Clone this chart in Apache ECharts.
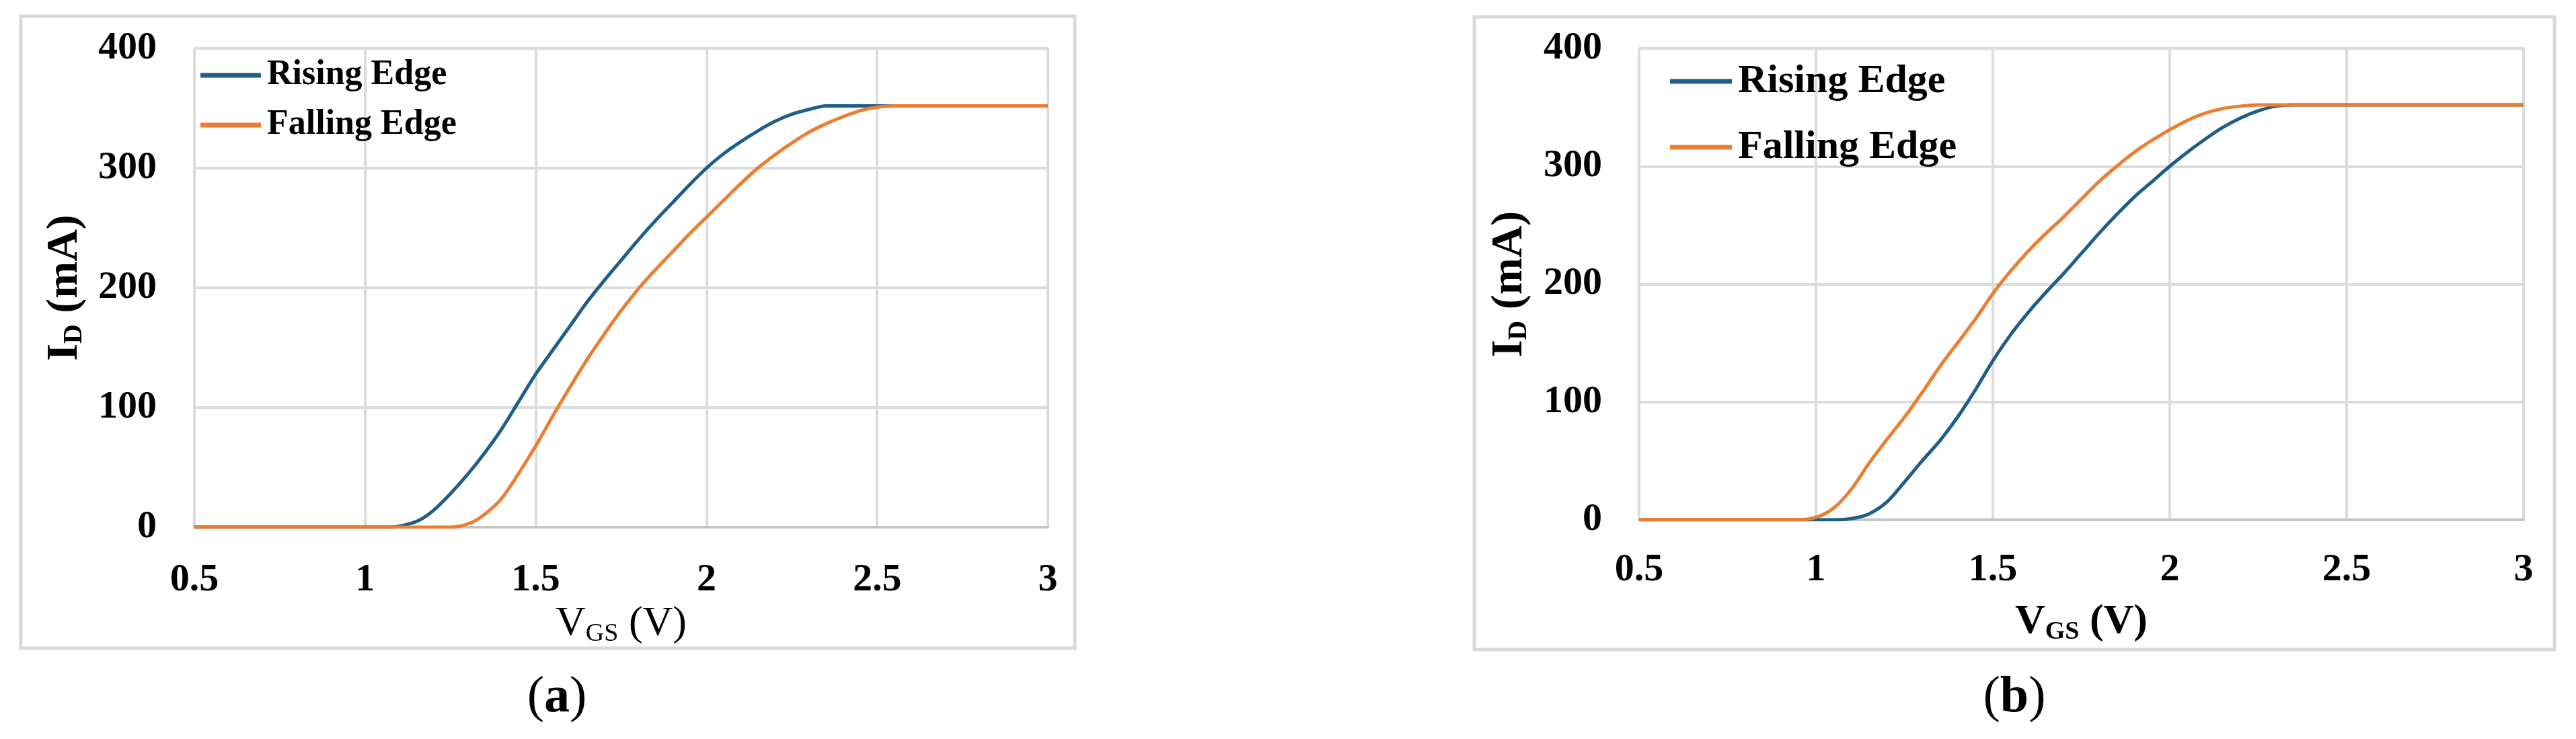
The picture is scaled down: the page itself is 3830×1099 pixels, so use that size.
<!DOCTYPE html>
<html><head><meta charset="utf-8">
<script src="https://cdn.jsdelivr.net/npm/echarts@6/dist/echarts.min.js"></script>
<style>html,body{margin:0;padding:0;background:#fff}#c{width:3830px;height:1099px}</style>
</head><body><div id="c"></div>
<script>
// ---------- data ----------
const seriesNames = ['Rising Edge', 'Falling Edge'];
const xTickValues = [0.5, 1, 1.5, 2, 2.5, 3];
const yTickValues = [0, 100, 200, 300, 400];
const panelLabels = ['a', 'b'];

// Panel (a)
const riseA_V = [0.5, 0.8, 1.0, 1.08, 1.12, 1.16, 1.2, 1.25, 1.3, 1.35, 1.4, 1.45, 1.5, 1.55, 1.6, 1.65, 1.7, 1.75, 1.8, 1.85, 1.9, 1.95, 2.0, 2.05, 2.1, 2.15, 2.2, 2.25, 2.3, 2.35, 2.4, 2.5, 2.6, 2.8, 3.0];
const riseA_I = [0, 0, 0, 0, 2, 6, 14, 28, 44, 62, 82, 105, 128, 148, 168, 188, 206, 223, 240, 256, 271, 286, 300, 312, 322, 331, 339, 345, 349, 352, 352, 352, 352, 352, 352];
const fallA_V = [0.5, 0.8, 1.0, 1.25, 1.28, 1.32, 1.36, 1.4, 1.45, 1.5, 1.55, 1.6, 1.65, 1.7, 1.75, 1.8, 1.85, 1.9, 1.95, 2.0, 2.05, 2.1, 2.15, 2.2, 2.25, 2.3, 2.35, 2.4, 2.45, 2.5, 2.55, 2.7, 2.9, 3.0];
const fallA_I = [0, 0, 0, 0, 1, 5, 13, 24, 45, 68, 93, 117, 140, 161, 181, 199, 215, 230, 245, 259, 273, 287, 300, 311, 321, 330, 337, 343, 348, 351, 352, 352, 352, 352];

// Panel (b)
const riseB_V = [0.5, 0.8, 1.0, 1.05, 1.1, 1.15, 1.2, 1.25, 1.3, 1.35, 1.4, 1.45, 1.5, 1.55, 1.6, 1.65, 1.7, 1.75, 1.8, 1.85, 1.9, 1.95, 2.0, 2.05, 2.1, 2.15, 2.2, 2.25, 2.3, 2.35, 2.5, 2.7, 2.9, 3.0];
const riseB_I = [0, 0, 0, 0, 1, 5, 15, 32, 50, 67, 87, 110, 135, 157, 176, 193, 209, 226, 243, 259, 274, 287, 300, 312, 323, 333, 341, 347, 351, 352, 352, 352, 352, 352];
const fallB_V = [0.5, 0.8, 0.95, 1.0, 1.05, 1.1, 1.15, 1.2, 1.25, 1.3, 1.35, 1.4, 1.45, 1.5, 1.55, 1.6, 1.65, 1.7, 1.75, 1.8, 1.85, 1.9, 1.95, 2.0, 2.05, 2.1, 2.15, 2.2, 2.25, 2.5, 2.7, 2.9, 3.0];
const fallB_I = [0, 0, 0, 2, 10, 26, 48, 68, 87, 108, 130, 150, 170, 192, 211, 228, 243, 257, 272, 287, 300, 312, 322, 331, 339, 345, 349, 351, 352, 352, 352, 352, 352];

// ---------- helpers ----------
const FONT = "'Liberation Serif', 'Times New Roman', serif";
const BLUE = '#1f5e88';
const ORANGE = '#ed7d31';
const GRID_C = '#dcdcdc';
const zip = (xs, ys) => xs.map((x, i) => [x, ys[i]]);

function xAxisCfg(gi, labelMargin, nameGap, bold) {
  return {
    type: 'value', gridIndex: gi,
    min: xTickValues[0], max: xTickValues[xTickValues.length - 1],
    interval: xTickValues[1] - xTickValues[0],
    axisLine: { show: true, lineStyle: { color: '#c4c4c4', width: 4 } },
    axisTick: { show: false },
    axisLabel: { margin: labelMargin, fontFamily: FONT, fontSize: 58, fontWeight: 'bold', color: '#000', lineHeight: 58 },
    splitLine: { show: true, lineStyle: { color: GRID_C, width: 4 } },
    name: '{m|V}{s|GS}{m| (V)}',
    nameLocation: 'middle', nameGap: nameGap,
    nameTextStyle: {
      rich: {
        m: { fontFamily: FONT, fontSize: 62, fontWeight: bold ? 'bold' : 'normal', color: '#000', lineHeight: 68 },
        s: { fontFamily: FONT, fontSize: 38, fontWeight: bold ? 'bold' : 'normal', color: '#000', lineHeight: 26, verticalAlign: 'bottom' }
      }
    }
  };
}
function yAxisCfg(gi, labelMargin, nameGap) {
  return {
    type: 'value', gridIndex: gi,
    min: yTickValues[0], max: yTickValues[yTickValues.length - 1],
    interval: yTickValues[1] - yTickValues[0],
    axisLine: { show: false },
    axisTick: { show: false },
    axisLabel: { margin: labelMargin, fontFamily: FONT, fontSize: 58, fontWeight: 'bold', color: '#000' },
    splitLine: { show: true, lineStyle: { color: GRID_C, width: 4 } },
    name: '{m|I}{s|D}{m| (mA)}',
    nameLocation: 'middle', nameGap: nameGap, nameRotate: 90,
    nameTextStyle: {
      rich: {
        m: { fontFamily: FONT, fontSize: 66, fontWeight: 'bold', color: '#000', lineHeight: 68 },
        s: { fontFamily: FONT, fontSize: 40, fontWeight: 'bold', color: '#000', lineHeight: 28, verticalAlign: 'bottom' }
      }
    }
  };
}
function lineSeries(name, gi, data, color) {
  return {
    name: name, type: 'line', xAxisIndex: gi, yAxisIndex: gi,
    data: data, symbol: 'none', showSymbol: false,
    smooth: 0.3,
    lineStyle: { color: color, width: 5 }, itemStyle: { color: color },
    animation: false
  };
}
function legendCfg(left, top, itemWidth, fontSize, itemGap) {
  return {
    orient: 'vertical', left: left, top: top, padding: 0,
    icon: 'rect', itemWidth: itemWidth, itemHeight: 7, itemGap: itemGap,
    data: seriesNames,
    textStyle: { fontFamily: FONT, fontSize: fontSize, fontWeight: 'bold', color: '#000', lineHeight: fontSize, padding: [0, 0, 0, 4] }
  };
}
function caption(cx, cy, letter) {
  return {
    type: 'text', x: cx, y: cy,
    style: {
      text: '{p|(}{b|' + letter + '}{p|)}',
      align: 'center', verticalAlign: 'middle',
      rich: {
        p: { fontFamily: FONT, fontSize: 76, color: '#000' },
        b: { fontFamily: FONT, fontSize: 76, fontWeight: 'bold', color: '#000' }
      }
    }
  };
}

const chart = echarts.init(document.getElementById('c'), null, { renderer: 'canvas' });
chart.setOption({
  backgroundColor: '#fff',
  animation: false,
  grid: [
    { left: 289, right: 3830 - 1558, top: 72, bottom: 1099 - 784 },
    { left: 2437, right: 3830 - 3752, top: 72, bottom: 1099 - 773 }
  ],
  xAxis: [xAxisCfg(0, 50, 104, false), xAxisCfg(1, 46, 118, true)],
  yAxis: [yAxisCfg(0, 56, 158), yAxisCfg(1, 55, 158)],
  legend: [legendCfg(298, 86, 90, 52, 22), legendCfg(2483, 91, 92, 60, 38)],
  series: [
    lineSeries(seriesNames[0], 0, zip(riseA_V, riseA_I), BLUE),
    lineSeries(seriesNames[1], 0, zip(fallA_V, fallA_I), ORANGE),
    lineSeries(seriesNames[0], 1, zip(riseB_V, riseB_I), BLUE),
    lineSeries(seriesNames[1], 1, zip(fallB_V, fallB_I), ORANGE)
  ],
  graphic: [
    { type: 'rect', shape: { x: 31, y: 24, width: 1567, height: 940 }, style: { fill: 'none', stroke: '#d9d9d9', lineWidth: 5 }, silent: true, z: -1 },
    { type: 'rect', shape: { x: 2192, y: 25, width: 1606, height: 941 }, style: { fill: 'none', stroke: '#d9d9d9', lineWidth: 5 }, silent: true, z: -1 },
    caption(828, 1038, panelLabels[0]),
    caption(2995, 1038, panelLabels[1])
  ]
});
</script>
</body></html>
